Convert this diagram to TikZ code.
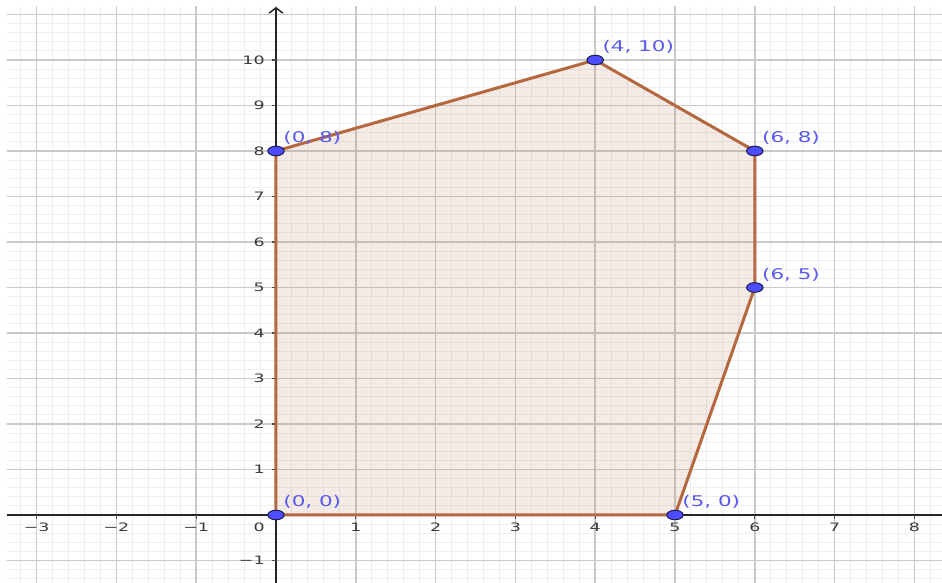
\documentclass[tikz,border=0pt]{standalone}
\usepackage{fontspec}
\setmainfont{DejaVu Sans}
\usetikzlibrary{arrows.meta,shapes.geometric}
\definecolor{gmajor}{HTML}{CACACA}
\definecolor{gminor}{HTML}{EEEEEE}
\definecolor{polyc}{HTML}{B5683E}
\definecolor{ptfill}{HTML}{4D4DFF}
\definecolor{ptedge}{HTML}{1C1C50}
\definecolor{ptlab}{HTML}{5A5AF2}
\definecolor{ticklab}{HTML}{3A3A3A}
\begin{document}
\begin{tikzpicture}[x=39.9pt,y=22.75pt,
  minorgrid/.style={draw=gminor,line width=0.5pt},
  majorgrid/.style={draw=gmajor,line width=0.75pt},
  axisline/.style={draw=black!85,line width=0.75pt},
  tickmark/.style={draw=black!70,line width=0.6pt},
  ticklabel/.style={font=\fontsize{5.8pt}{6.5pt}\selectfont,text=ticklab,inner sep=0pt},
  ptlabel/.style={font=\fontsize{7.4pt}{8pt}\selectfont,text=ptlab,inner sep=0pt,anchor=west},
  polyfill/.style={fill=polyc,fill opacity=0.13},
  polyedge/.style={draw=polyc,line width=1.5pt,line join=round},
  ptnode/.style={ellipse,draw=ptedge,fill=ptfill,minimum width=8.2pt,minimum height=4.8pt,inner sep=0pt,line width=0.5pt}]
\useasboundingbox (-3.4586,-1.4945) rectangle (8.3459,11.3187);
\fill[white] (-3.4586,-1.4945) rectangle (8.3459,11.3187);
% grid
\begin{scope}
\clip (-3.371,-1.4945) rectangle (8.3459,11.165);
\foreach \i in {-17,...,42} \draw[minorgrid] (\i/5,-2) -- (\i/5,12);
\foreach \j in {-8,...,57} \draw[minorgrid] (-4,\j/5) -- (9,\j/5);
\foreach \i in {-3,...,8} \draw[majorgrid] (\i,-2) -- (\i,12);
\foreach \j in {-1,...,11} \draw[majorgrid] (-4,\j) -- (9,\j);
\end{scope}
% vertices
\coordinate (A) at (0,0);
\coordinate (B) at (5,0);
\coordinate (C) at (6,5);
\coordinate (D) at (6,8);
\coordinate (E) at (4,10);
\coordinate (F) at (0,8);
% polygon fill
\fill[polyfill] (A) -- (B) -- (C) -- (D) -- (E) -- (F) -- cycle;
% axes
\coordinate (xl) at (-3.371,0);
\coordinate (xr) at (8.3459,0);
\coordinate (yb) at (0,-1.4945);
\coordinate (yt) at (0,11.165);
\draw[axisline] (xl) -- (xr);
\draw[axisline,-{Straight Barb[length=2.6pt,width=7pt,line width=0.75pt]}] (yb) -- (yt);
% ticks and tick labels
\foreach \i/\t in {-3/−3,-2/−2,-1/−1,1/1,2/2,3/3,4/4,5/5,6/6,7/7,8/8}{
  \draw[tickmark] (\i,0) -- ([yshift=-2.2pt]\i,0);
  \node[ticklabel] (lx\i) at ([yshift=-6pt]\i,0) {\scalebox{1.5}[1]{\t}};
}
\foreach \j/\t in {-1/−1,1/1,2/2,3/3,4/4,5/5,6/6,7/7,8/8,9/9,10/10}{
  \draw[tickmark] (0,\j) -- ([xshift=-2.2pt]0,\j);
  \node[ticklabel,anchor=east] (ly\j) at ([xshift=-5.5pt]0,\j) {\scalebox{1.5}[1]{\t}};
}
\node[ticklabel,anchor=east] (lo) at ([xshift=-5.5pt,yshift=-6pt]0,0) {\scalebox{1.5}[1]{0}};
% polygon edges
\draw[polyedge] (A) -- (B) -- (C) -- (D) -- (E) -- (F) -- cycle;
% points
\foreach \p in {A,B,C,D,E,F} \node[ptnode] (p\p) at (\p) {};
% point labels
\node[ptlabel] (lA) at ([xshift=3.5pt,yshift=6.5pt]A) {\scalebox{1.45}[1]{(0, 0)}};
\node[ptlabel] (lB) at ([xshift=3.5pt,yshift=6.5pt]B) {\scalebox{1.45}[1]{(5, 0)}};
\node[ptlabel] (lC) at ([xshift=3.5pt,yshift=6.5pt]C) {\scalebox{1.45}[1]{(6, 5)}};
\node[ptlabel] (lD) at ([xshift=3.5pt,yshift=6.5pt]D) {\scalebox{1.45}[1]{(6, 8)}};
\node[ptlabel] (lE) at ([xshift=3.5pt,yshift=6.5pt]E) {\scalebox{1.45}[1]{(4, 10)}};
\node[ptlabel] (lF) at ([xshift=3.5pt,yshift=6.5pt]F) {\scalebox{1.45}[1]{(0, 8)}};
\end{tikzpicture}
\end{document}
